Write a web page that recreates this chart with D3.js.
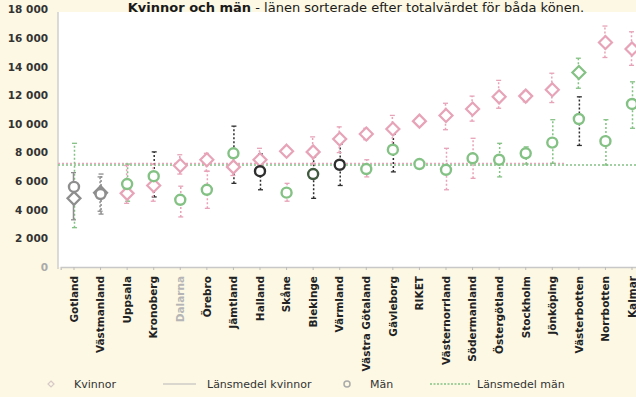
<!DOCTYPE html>
<html>
<head>
<meta charset="utf-8">
<script src="https://cdn.jsdelivr.net/npm/d3@7"></script>
<style>
  html, body { margin: 0; padding: 0; background: #fcf8e4; }
  svg { display: block; }
  text { font-family: "DejaVu Sans", sans-serif; }
</style>
</head>
<body>
<svg id="chart" width="636" height="397"></svg>
<script>
// Län, sorted by the combined value for both sexes
const counties = ["Gotland", "Västmanland", "Uppsala", "Kronoberg", "Dalarna", "Örebro",
  "Jämtland", "Halland", "Skåne", "Blekinge", "Värmland", "Västra Götaland", "Gävleborg",
  "RIKET", "Västernorrland", "Södermanland", "Östergötland", "Stockholm", "Jönköping",
  "Västerbotten", "Norrbotten", "Kalmar"];

// Kvinnor: value and spread (low / high)
const kvinnor     = [4800, 5200, 5150, 5700, 7100, 7500, 7000, 7500, 8100, 8050, 8950, 9300, 9650, 10200, 10600, 11050, 11900, 11950, 12400, 13600, 15700, 15250];
const kvinnorLow  = [3300, 3900, 4450, 4600, 6500, 6700, 6400, 6900, 7800, 7200, 8000, 8900, 8400, null, 9600, 10200, 11100, 11550, 11500, 12500, 14650, 14100];
const kvinnorHigh = [6600, 6300, 7100, 7200, 7850, 7950, 7600, 8300, 8400, 9100, 9800, 9700, 10600, null, 11450, 11950, 13050, 12300, 13550, 14600, 16850, 16450];

// Män: value and spread (low / high)
const man     = [5600, 5100, 5800, 6350, 4700, 5400, 7950, 6700, 5200, 6500, 7150, 6850, 8200, 7200, 6800, 7600, 7500, 7950, 8700, 10350, 8800, 11400];
const manLow  = [2750, 3700, 4600, 4900, 3500, 4100, 5850, 5400, 4600, 4800, 5700, 6300, 6650, null, 5400, 6200, 6300, 7200, 7250, 8500, 7130, 9700];
const manHigh = [8650, 6500, 7200, 8050, 5650, 6700, 9850, 7900, 5850, 7700, 8600, 7500, 9300, null, 8300, 9000, 8650, 8400, 10300, 11900, 10300, 12950];

// Länsmedel
const kvinnorMean = 7250;
const manMean = 7130;

const yTicks = [0, 2000, 4000, 6000, 8000, 10000, 12000, 14000, 16000, 18000];

const legendItems = ["Kvinnor", "Länsmedel kvinnor", "Män", "Länsmedel män"];

// Colour tones for individual counties
const PINK = "#e7a3b8", GREEN = "#84c184", GREY = "#8e8e8e", DARK = "#2e2e2e";
const kvTone = { "Gotland": GREY, "Västmanland": GREY, "Västerbotten": GREEN };
const manTone = { "Gotland": GREY, "Västmanland": GREY, "Halland": DARK, "Värmland": DARK, "Blekinge": "#3f5a3f" };
const kvWhiskerTone = { "Gotland": GREY, "Västmanland": GREY, "Västerbotten": GREEN };
const manWhiskerTone = { "Gotland": GREEN, "Västmanland": GREY, "Kronoberg": DARK, "Jämtland": DARK,
  "Halland": DARK, "Värmland": DARK, "Blekinge": DARK, "Gävleborg": DARK, "Västerbotten": DARK,
  "Dalarna": PINK, "Örebro": PINK, "Skåne": PINK, "Västra Götaland": PINK, "Västernorrland": PINK,
  "Södermanland": PINK, "Jönköping": GREEN };

const svg = d3.select("#chart");
const W = 636, H = 397;
const plotLeft = 58, plotTop = 12, plotBottom = 267;

const x = d3.scaleBand().domain(counties).range([60.7, 645.3]);
const y = d3.scaleLinear().domain([0, 18000]).range([plotBottom, 9.6]);
const cx = d => x(d) + x.bandwidth() / 2;

// Plot background
svg.append("rect").attr("x", 0).attr("y", 0).attr("width", W).attr("height", H).attr("fill", "#fcf8e4");
svg.append("rect").attr("x", plotLeft).attr("y", plotTop).attr("width", W - plotLeft).attr("height", plotBottom - plotTop)
  .attr("fill", "#ffffff");

// Axes
const fmt = v => d3.format(",")(v).replace(/,/g, " ");
const yAxis = svg.append("g").attr("transform", `translate(${plotLeft},0)`)
  .call(d3.axisLeft(y).tickValues(yTicks).tickSize(0).tickPadding(10).tickFormat(fmt));
yAxis.select(".domain").remove();
yAxis.selectAll("text").attr("font-size", 10.5).attr("font-weight", "bold").attr("fill", "#333")
  .attr("font-family", "DejaVu Sans");
yAxis.selectAll("text").filter(d => d === 0).attr("fill", "#aaa");

svg.append("line").attr("x1", plotLeft).attr("x2", plotLeft).attr("y1", plotTop).attr("y2", plotBottom + 2)
  .attr("stroke", "#cfcfcf").attr("stroke-width", 1.5);

const xAxis = svg.append("g").attr("transform", `translate(0,${plotBottom})`)
  .call(d3.axisBottom(x).tickSize(3));
xAxis.select(".domain").attr("stroke", "#c8c8c8").attr("stroke-width", 1.5);
xAxis.selectAll(".tick line").attr("stroke", "#bbb");
xAxis.selectAll("text")
  .attr("transform", "rotate(-90)")
  .attr("x", -9).attr("y", 0).attr("dy", "0.36em")
  .style("text-anchor", "end")
  .attr("font-size", 10.5).attr("font-weight", "bold").attr("font-family", "DejaVu Sans")
  .attr("fill", d => d === "Dalarna" ? "#b5b5b5" : "#222");

// Länsmedel lines
const meanG = svg.append("g");
meanG.append("line").attr("x1", plotLeft).attr("x2", W).attr("y1", y(manMean)).attr("y2", y(manMean))
  .attr("stroke", GREEN).attr("stroke-width", 1.4).attr("stroke-dasharray", "2,2");
meanG.append("line").attr("x1", plotLeft).attr("x2", x("Västerbotten")).attr("y1", y(kvinnorMean)).attr("y2", y(kvinnorMean))
  .attr("stroke", PINK).attr("stroke-width", 1.4).attr("stroke-dasharray", "2,2");

// Whiskers
function whiskers(lowArr, highArr, tones, fallback, dx, solidFor) {
  const g = svg.append("g");
  counties.forEach((c, i) => {
    if (lowArr[i] == null) return;
    const col = tones[c] || fallback;
    const xx = cx(c) + dx;
    g.append("line").attr("x1", xx).attr("x2", xx).attr("y1", y(lowArr[i])).attr("y2", y(highArr[i]))
      .attr("stroke", col).attr("stroke-width", 1.5)
      .attr("stroke-dasharray", solidFor.includes(c) ? null : "2,2");
    [lowArr[i], highArr[i]].forEach(v => {
      g.append("line").attr("x1", xx - 2.5).attr("x2", xx + 2.5).attr("y1", y(v)).attr("y2", y(v))
        .attr("stroke", col).attr("stroke-width", 1.3);
    });
  });
}
whiskers(manLow, manHigh, manWhiskerTone, GREEN, 0.5, []);
whiskers(kvinnorLow, kvinnorHigh, kvWhiskerTone, PINK, -0.5, ["Gotland"]);

// Kvinnor: hollow diamonds
svg.append("g").selectAll("path").data(counties).join("path")
  .attr("d", (c, i) => {
    const px = cx(c), py = y(kvinnor[i]);
    return `M${px},${py - 6.5}L${px + 6.5},${py}L${px},${py + 6.5}L${px - 6.5},${py}Z`;
  })
  .attr("fill", "#fff").attr("stroke", c => kvTone[c] || PINK).attr("stroke-width", 2.2);

// Män: hollow circles
svg.append("g").selectAll("circle").data(counties).join("circle")
  .attr("cx", c => cx(c)).attr("cy", (c, i) => y(man[i])).attr("r", 5)
  .attr("fill", "#fff").attr("stroke", c => manTone[c] || GREEN).attr("stroke-width", 2.4);

// Title
const title = svg.append("text").attr("x", 356).attr("y", 12).attr("text-anchor", "middle")
  .attr("font-size", 13).attr("fill", "#1a1a1a");
title.append("tspan").attr("font-weight", "bold").text("Kvinnor och män");
title.append("tspan").text(" - länen sorterade efter totalvärdet för båda könen.");

// Legend
const lg = svg.append("g").attr("font-size", 11).attr("fill", "#333");
const ly = 384;
lg.append("path").attr("d", `M51,${ly - 3}L54,${ly}L51,${ly + 3}L48,${ly}Z`).attr("fill", "none")
  .attr("stroke", "#d8c8c8").attr("stroke-width", 1.2);
lg.append("text").attr("x", 74).attr("y", ly + 4).text(legendItems[0]);
lg.append("line").attr("x1", 163).attr("x2", 196).attr("y1", ly).attr("y2", ly).attr("stroke", "#b8b8b8").attr("stroke-width", 1);
lg.append("text").attr("x", 207).attr("y", ly + 4).text(legendItems[1]);
lg.append("circle").attr("cx", 347).attr("cy", ly).attr("r", 3).attr("fill", "none").attr("stroke", "#aaa").attr("stroke-width", 1.5);
lg.append("text").attr("x", 370).attr("y", ly + 4).text(legendItems[2]);
lg.append("line").attr("x1", 430).attr("x2", 470).attr("y1", ly).attr("y2", ly).attr("stroke", GREEN)
  .attr("stroke-width", 1.4).attr("stroke-dasharray", "2,1.5");
lg.append("text").attr("x", 477).attr("y", ly + 4).text(legendItems[3]);
</script>
</body>
</html>
